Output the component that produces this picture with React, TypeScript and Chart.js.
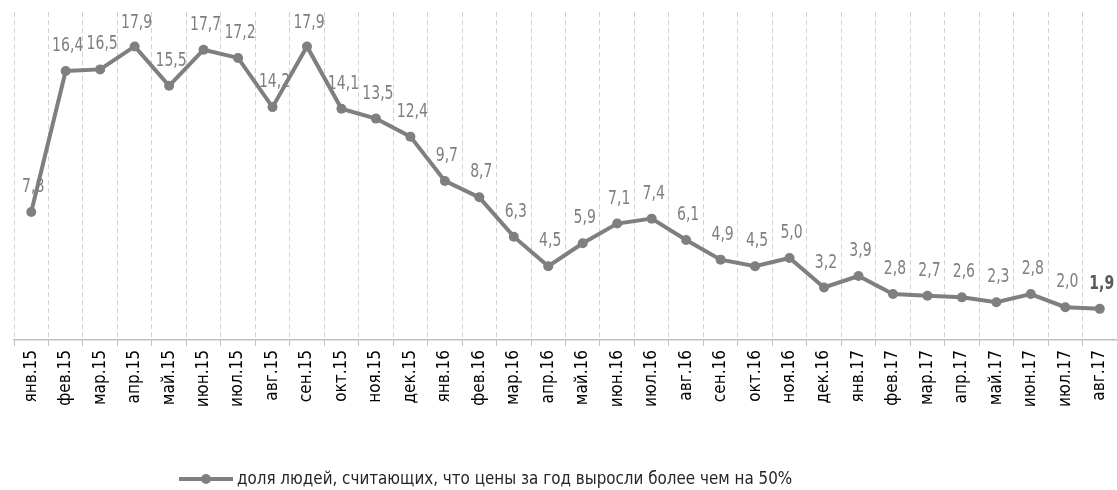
import React, { useEffect, useRef } from "react";
import { Chart, registerables } from "chart.js";

Chart.register(...registerables);

const categories = [
  "янв.15", "фев.15", "мар.15", "апр.15", "май.15", "июн.15", "июл.15", "авг.15",
  "сен.15", "окт.15", "ноя.15", "дек.15", "янв.16", "фев.16", "мар.16", "апр.16",
  "май.16", "июн.16", "июл.16", "авг.16", "сен.16", "окт.16", "ноя.16", "дек.16",
  "янв.17", "фев.17", "мар.17", "апр.17", "май.17", "июн.17", "июл.17", "авг.17",
];

const shareValues = [
  7.8, 16.4, 16.5, 17.9, 15.5, 17.7, 17.2, 14.2,
  17.9, 14.1, 13.5, 12.4, 9.7, 8.7, 6.3, 4.5,
  5.9, 7.1, 7.4, 6.1, 4.9, 4.5, 5.0, 3.2,
  3.9, 2.8, 2.7, 2.6, 2.3, 2.8, 2.0, 1.9,
];

const seriesLabel = "доля людей, считающих, что цены за год выросли более чем на 50%";

const FONT = "'DejaVu Sans Condensed', 'DejaVu Sans', sans-serif";
const GRAY = "#7f7f7f";

const fmt = (v: number) => v.toFixed(1).replace(".", ",");

const labelsPlugin = {
  id: "dataLabelsAndLegend",
  afterDatasetsDraw(chart: any) {
    const ctx = chart.ctx;
    const meta = chart.getDatasetMeta(0);
    const data = chart.data.datasets[0].data as number[];
    const sx = 0.82;
    meta.data.forEach((pt: any, i: number) => {
      const last = i === data.length - 1;
      ctx.save();
      ctx.textAlign = "center";
      ctx.textBaseline = "alphabetic";
      ctx.font = `${last ? "bold " : ""}19px ${FONT}`;
      ctx.fillStyle = last ? "#595959" : GRAY;
      const y = Math.max(pt.y - 20, 28);
      ctx.translate(pt.x + 2, y);
      ctx.scale(sx, 1);
      ctx.fillText(fmt(data[i]), 0, 0);
      ctx.restore();
    });
    // legend
    ctx.save();
    const ly = 479;
    const lx = 179;
    ctx.strokeStyle = GRAY;
    ctx.lineWidth = 4;
    ctx.beginPath();
    ctx.moveTo(lx, ly);
    ctx.lineTo(lx + 54, ly);
    ctx.stroke();
    ctx.fillStyle = GRAY;
    ctx.beginPath();
    ctx.arc(lx + 27, ly, 5, 0, Math.PI * 2);
    ctx.fill();
    ctx.fillStyle = "#262626";
    ctx.font = `18px ${FONT}`;
    ctx.textAlign = "left";
    ctx.textBaseline = "middle";
    ctx.translate(lx + 58, ly);
    ctx.scale(0.936, 1);
    ctx.fillText(chart.data.datasets[0].label, 0, 0);
    ctx.restore();
  },
};

export default function App() {
  const ref = useRef<HTMLCanvasElement | null>(null);
  useEffect(() => {
    document.body.style.margin = "0";
    const canvas = ref.current!;
    const chart = new Chart(canvas, {
      type: "line",
      data: {
        labels: categories,
        datasets: [
          {
            label: seriesLabel,
            data: shareValues,
            borderColor: GRAY,
            backgroundColor: GRAY,
            borderWidth: 4,
            pointRadius: 5,
            pointBackgroundColor: GRAY,
            pointBorderColor: GRAY,
            pointBorderWidth: 0,
            tension: 0,
            clip: false,
          },
        ],
      },
      options: {
        animation: false,
        responsive: false,
        maintainAspectRatio: false,
        layout: { autoPadding: false, padding: { top: 12, left: 14, right: 0, bottom: 0 } },
        plugins: {
          legend: { display: false },
          tooltip: { enabled: false },
        },
        scales: {
          x: {
            offset: true,
            grid: {
              offset: true,
              display: true,
              color: "#d0d0d0",
              lineWidth: 1,
              tickLength: 6,
              tickColor: "#bfbfbf",
              tickBorderDash: [],
            },
            border: { display: true, color: "#bfbfbf", width: 1.5, dash: [5, 3] },
            ticks: {
              autoSkip: false,
              minRotation: 90,
              maxRotation: 90,
              padding: 4,
              color: "#000000",
              font: { family: FONT, size: 17 },
            },
            afterFit(scale: any) {
              scale.height = 150;
              scale.paddingRight = 0;
              scale.paddingLeft = 0;
            },
          },
          y: {
            display: false,
            min: 0,
            max: 20,
          },
        },
      } as any,
      plugins: [labelsPlugin],
    });
    return () => chart.destroy();
  }, []);
  return (
    <div style={{ width: 1117, height: 490 }}>
      <canvas ref={ref} width={1117} height={490} style={{ display: "block" }} />
    </div>
  );
}
